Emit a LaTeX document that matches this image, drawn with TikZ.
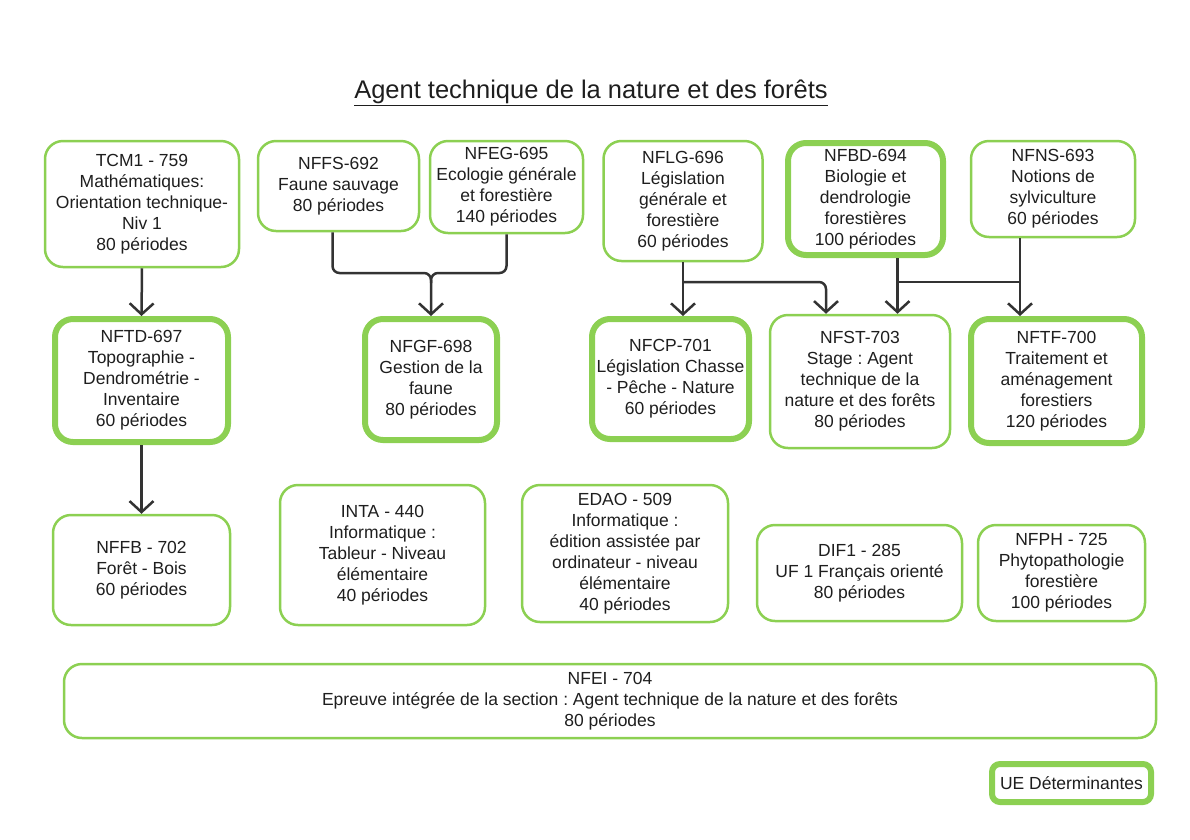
\documentclass[tikz,border=0pt]{standalone}
\usepackage{fontspec}
\setmainfont{Liberation Sans}
\frenchspacing
\usetikzlibrary{arrows.meta,calc,positioning}
\definecolor{uegreen}{RGB}{140,208,82}
\definecolor{uetext}{RGB}{30,30,30}
\definecolor{linkgrey}{RGB}{51,51,51}
\tikzset{>={Straight Barb[length=11pt,width=24pt,line width=2.5pt]}}
\tikzset{ue/.style={draw=uegreen,line width=2.5pt,rounded corners=18pt,
    align=center,text=uetext,font=\fontsize{17.5}{21}\selectfont,inner sep=0pt}}
\tikzset{uedet/.style={ue,line width=6pt}}
\tikzset{link/.style={draw=linkgrey,line width=2.5pt,rounded corners=7pt,->}}

\begin{document}
\begin{tikzpicture}[x=1pt,y=-1pt]
	\useasboundingbox (0,0) rectangle (1190,839);
	\node[text=uetext,font=\fontsize{25.5}{30}\selectfont] (titre) at (591,93)
		{\underline{Agent technique de la nature et des forêts}};
	% premiere rangee
	\node[ue,minimum width=194pt,minimum height=126pt] (tcm) at (142,204)
		{TCM1 - 759\\Mathématiques:\\Orientation technique-\\Niv 1\\80 périodes};
	\node[ue,minimum width=161pt,minimum height=90pt] (nffs) at (338.5,186)
		{NFFS-692\\Faune sauvage\\80 périodes};
	\node[ue,minimum width=153pt,minimum height=92pt] (nfeg) at (506.5,187)
		{NFEG-695\\Ecologie générale\\et forestière\\140 périodes};
	\node[ue,minimum width=159pt,minimum height=120pt] (nflg) at (683,201)
		{NFLG-696\\Législation\\générale et\\forestière\\60 périodes};
	\node[uedet,minimum width=155pt,minimum height=112pt] (nfbd) at (865.5,199)
		{NFBD-694\\Biologie et\\dendrologie\\forestières\\100 périodes};
	\node[ue,minimum width=164pt,minimum height=96pt] (nfns) at (1053,189)
		{NFNS-693\\Notions de\\sylviculture\\60 périodes};
	% deuxieme rangee
	\node[uedet,minimum width=173pt,minimum height=123pt] (nftd) at (141.5,380.5)
		{NFTD-697\\Topographie -\\Dendrométrie -\\Inventaire\\60 périodes};
	\node[uedet,minimum width=132pt,minimum height=121pt] (nfgf) at (431,379.5)
		{NFGF-698\\Gestion de la\\faune\\80 périodes};
	\node[uedet,minimum width=157pt,minimum height=120pt] (nfcp) at (670.5,379)
		{NFCP-701\\Législation Chasse\\- Pêche - Nature\\60 périodes};
	\node[ue,minimum width=180pt,minimum height=133pt] (nfst) at (860,381.5)
		{NFST-703\\Stage : Agent\\technique de la\\nature et des forêts\\80 périodes};
	\node[uedet,minimum width=171pt,minimum height=124pt] (nftf) at (1056.5,381)
		{NFTF-700\\Traitement et\\aménagement\\forestiers\\120 périodes};
	% troisieme rangee
	\node[ue,minimum width=177pt,minimum height=110pt] (nffb) at (141.5,570)
		{NFFB - 702\\Forêt - Bois\\60 périodes};
	\node[ue,minimum width=205pt,minimum height=140pt] (inta) at (382.5,555)
		{INTA - 440\\Informatique :\\Tableur - Niveau\\élémentaire\\40 périodes};
	\node[ue,minimum width=206pt,minimum height=137pt] (edao) at (625,553.5)
		{EDAO - 509\\Informatique :\\édition assistée par\\ordinateur - niveau\\élémentaire\\40 périodes};
	\node[ue,minimum width=205pt,minimum height=96pt] (dif) at (859.5,573)
		{DIF1 - 285\\UF 1 Français orienté\\80 périodes};
	\node[ue,minimum width=167pt,minimum height=96pt] (nfph) at (1061.5,573)
		{NFPH - 725\\Phytopathologie\\forestière\\100 périodes};
	\node[ue,minimum width=1092pt,minimum height=74pt] (nfei) at (610,701)
		{NFEI - 704\\Epreuve intégrée de la section : Agent technique de la nature et des forêts\\80 périodes};
	% legende
	\node[uedet,rounded corners=8pt,minimum width=159pt,minimum height=38pt] (legende) at (1071.5,783)
		{UE Déterminantes};
	% liens
	\coordinate (rowA) at (0,273);
	\coordinate (rowB) at (0,282);
	\draw[link] (tcm.south) -- (nftd.north);
	\draw[link] (nftd.south) -- (nffb.north);
	\draw[link,-] ([xshift=-6pt]nffs.south) |- (nfgf.north |- rowA) -- ([yshift=-10pt]nfgf.north |- rowA);
	\draw[link] (nfeg.south) |- (nfgf.north |- rowA) -- (nfgf.north);
	\draw[link] (nflg.south) -- (nflg.south |- nfcp.north);
	\draw[link] (nflg.south |- rowB) -| ([xshift=-34pt]nfst.north);
	\draw[link] ([xshift=32pt]nfbd.south) -- ([xshift=32pt]nfbd.south |- nfst.north);
	\draw[link] ([xshift=-33pt]nfns.south) -- ([xshift=-33pt]nfns.south |- nftf.north);
	\draw[link,-] ([xshift=32pt]nfbd.south |- rowB) -- ([xshift=-33pt]nfns.south |- rowB);
\end{tikzpicture}
\end{document}
